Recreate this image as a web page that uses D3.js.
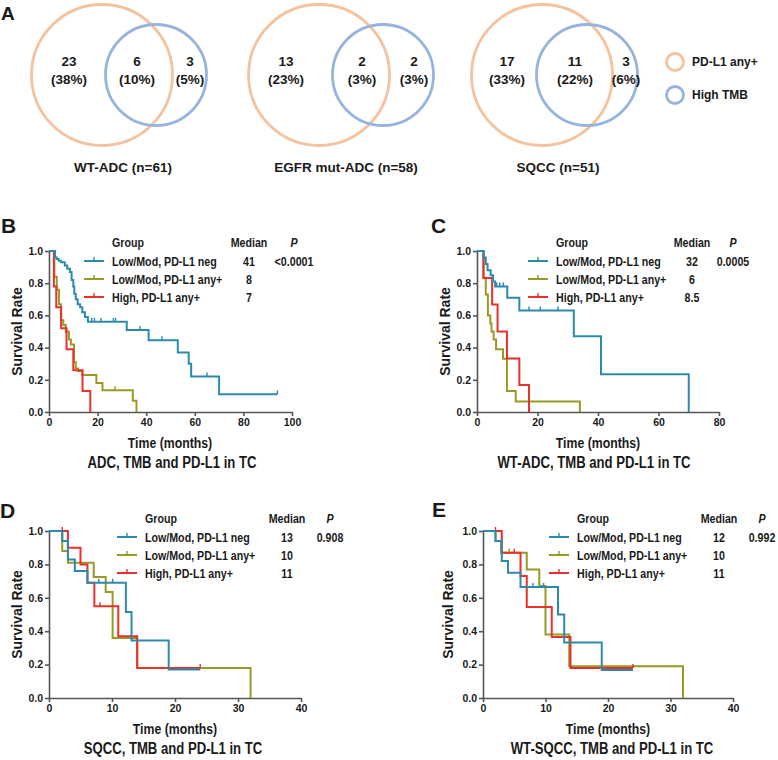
<!DOCTYPE html>
<html>
<head>
<meta charset="utf-8">
<script src="https://cdn.jsdelivr.net/npm/d3@7"></script>
<style>
  body { margin: 0; background: #fff; }
  svg text { font-family: Arial, "Liberation Sans", sans-serif; font-weight: bold; fill: #1a1a1a; }
</style>
</head>
<body>
<div id="body"></div>
<script>
// ---- panel A data (Venn counts) ----
var vennTitles = ["WT-ADC (n=61)", "EGFR mut-ADC (n=58)", "SQCC (n=51)"];
var vennCounts = [[23, 6, 3], [13, 2, 2], [17, 11, 3]];
var vennPercents = [["38%", "10%", "5%"], ["23%", "3%", "3%"], ["33%", "22%", "6%"]];
var vennLegend = ["PD-L1 any+", "High TMB"];

// ---- KM groups ----
var groups = ["Low/Mod, PD-L1 neg", "Low/Mod, PD-L1 any+", "High, PD-L1 any+"];
var groupColors = ["#2c8aad", "#999a24", "#e8302c"];

// B: ADC
var adcNeg = [[0,1],[2.5,0.96],[3.2,0.95],[4,0.94],[5,0.93],[6.5,0.91],[7.5,0.89],[8.6,0.87],[9.3,0.82],[10,0.78],[10.4,0.735],[11,0.70],[11.8,0.67],[12.8,0.65],[13.7,0.62],[14.8,0.59],[16,0.56],[32,0.51],[41,0.445],[53,0.37],[57.5,0.30],[58.5,0.22],[70,0.11],[94,0.11]];
var adcAny = [[0,1],[2.2,0.84],[3.2,0.76],[4.1,0.67],[4.9,0.57],[5.9,0.54],[6.9,0.50],[8.2,0.45],[9,0.42],[10.3,0.31],[11,0.27],[12,0.255],[13.7,0.23],[19.5,0.18],[22,0.135],[34.5,0.07],[36,0]];
var adcHigh = [[0,1],[2,0.78],[3,0.65],[5,0.52],[7.2,0.39],[10,0.26],[13.8,0.13],[17,0]];
var adcNegCens = [17.6, 18.7, 21.4, 26.5, 27.4, 37.5, 46.5, 65, 94];
var adcAnyCens = [27.2];
var adcHighCens = [];

// C: WT-ADC
var wtAdcNeg = [[0,1],[2.2,0.96],[2.9,0.92],[3.5,0.88],[4.5,0.85],[5.3,0.81],[6,0.78],[10,0.71],[14,0.63],[32,0.47],[41,0.235],[70,0]];
var wtAdcAny = [[0,1],[2.2,0.83],[2.9,0.73],[3.6,0.6],[4.4,0.55],[4.8,0.5],[5.5,0.45],[6.3,0.39],[8.6,0.33],[9.9,0.13],[12.8,0.065],[34,0]];
var wtAdcHigh = [[0,1],[2.1,0.833],[5,0.667],[6.8,0.5],[9.9,0.333],[14,0.167],[17.2,0]];
var wtAdcNegCens = [6.5, 7.5, 8.7, 17.2, 20.9, 26.8];
var wtAdcAnyCens = [];
var wtAdcHighCens = [];

// D: SQCC
var sqccNeg = [[0,1],[2.1,0.94],[3,0.83],[4.1,0.76],[6.1,0.69],[12.2,0.515],[13.1,0.345],[19,0.17],[24,0.17]];
var sqccAny = [[0,1],[2.1,0.88],[3,0.81],[7.1,0.725],[9,0.635],[10.1,0.36],[14,0.18],[32,0]];
var sqccHigh = [[0,1],[3,0.9],[5,0.8],[6.1,0.69],[7.2,0.55],[11,0.37],[14,0.18],[24,0.18]];
var sqccNegCens = [7.9, 10.1];
var sqccAnyCens = [];
var sqccHighCens = [2.1, 8.1, 24];

// E: WT-SQCC
var wtSqccNeg = [[0,1],[2,0.94],[3,0.82],[4,0.75],[6,0.665],[12,0.5],[13,0.333],[19,0.167],[24,0.167]];
var wtSqccAny = [[0,1],[2,0.94],[2.9,0.87],[7,0.77],[9,0.67],[10,0.38],[13.8,0.19],[32,0]];
var wtSqccHigh = [[0,1],[3,0.87],[6,0.73],[7,0.545],[11,0.365],[14,0.18],[24,0.18]];
var wtSqccNegCens = [8, 9.7];
var wtSqccAnyCens = [4.2];
var wtSqccHighCens = [2, 5, 24];

var kmTitles = ["ADC, TMB and PD-L1 in TC", "WT-ADC, TMB and PD-L1 in TC", "SQCC, TMB and PD-L1 in TC", "WT-SQCC, TMB and PD-L1 in TC"];
var kmMedians = [["41", "8", "7"], ["32", "6", "8.5"], ["13", "10", "11"], ["12", "10", "11"]];
var kmPValues = ["<0.0001", "0.0005", "0.908", "0.992"];
var kmXMax = [100, 80, 40, 40];
var kmXStep = [20, 20, 10, 10];
var yTicks = [0, 0.2, 0.4, 0.6, 0.8, 1.0];

var svg = d3.select("#body")
  .append("svg")
  .attr("width", 778)
  .attr("height", 760);

// narrow text (the figure uses a condensed face)
function ntext(sel, x, y, str, size, anchor) {
  return sel.append("text")
    .attr("transform", "translate(" + x + "," + y + ") scale(0.82,1)")
    .attr("text-anchor", anchor || "start")
    .style("font-size", size + "px")
    .text(str);
}

// ---------- panel A ----------
var orange = "#f4c29c", blue = "#96b4de";
svg.append("text").attr("x", 1).attr("y", 20).style("font-size", "19px").text("A");

var vennLayout = [
  {ocx: 102, bcx: 156, tx: [69, 137, 190], titleX: 123},
  {ocx: 319, bcx: 383, tx: [286, 362, 414], titleX: 346},
  {ocx: 542, bcx: 587, tx: [507, 575, 626], titleX: 558}
];

vennLayout.forEach(function(v, i) {
  var g = svg.append("g");
  g.append("circle").attr("cx", v.ocx).attr("cy", 75).attr("r", 70.5)
    .attr("fill", "none").attr("stroke", orange).attr("stroke-width", 2.8);
  g.append("circle").attr("cx", v.bcx).attr("cy", 75).attr("r", 50.5)
    .attr("fill", "none").attr("stroke", blue).attr("stroke-width", 2.8);
  vennCounts[i].forEach(function(c, j) {
    g.append("text").attr("x", v.tx[j]).attr("y", 66).attr("text-anchor", "middle")
      .style("font-size", "13.5px").text(c);
    g.append("text").attr("x", v.tx[j]).attr("y", 84).attr("text-anchor", "middle")
      .style("font-size", "13.5px").text("(" + vennPercents[i][j] + ")");
  });
  g.append("text").attr("x", v.titleX).attr("y", 172).attr("text-anchor", "middle")
    .style("font-size", "13.5px").text(vennTitles[i]);
});

[orange, blue].forEach(function(col, i) {
  svg.append("circle").attr("cx", 675).attr("cy", 62 + i * 33).attr("r", 8.5)
    .attr("fill", "none").attr("stroke", col).attr("stroke-width", 2.8);
  svg.append("text").attr("x", 692).attr("y", 66 + i * 33)
    .style("font-size", "12px").text(vennLegend[i]);
});

// ---------- KM panels ----------
var kmLayout = [
  {letter: "B", lx: 1, ly: 233, left: 49, right: 292, top: 251, bottom: 412, legX: 84, legY: 261, medX: 249, pX: 294, titleX: 172, xtX: 170, syX: 22},
  {letter: "C", lx: 431, ly: 233, left: 477, right: 719, top: 251, bottom: 412, legX: 528, legY: 261, medX: 692, pX: 733, titleX: 594, xtX: 598, syX: 450},
  {letter: "D", lx: 0, ly: 518, left: 49, right: 301, top: 531, bottom: 698, legX: 117, legY: 537, medX: 287, pX: 330, titleX: 173, xtX: 175, syX: 22},
  {letter: "E", lx: 432, ly: 517, left: 483, right: 733, top: 531, bottom: 698, legX: 549, legY: 537, medX: 719, pX: 762, titleX: 612, xtX: 608, syX: 453}
];

var kmCurves = [
  [adcNeg, adcAny, adcHigh],
  [wtAdcNeg, wtAdcAny, wtAdcHigh],
  [sqccNeg, sqccAny, sqccHigh],
  [wtSqccNeg, wtSqccAny, wtSqccHigh]
];
var kmCens = [
  [adcNegCens, adcAnyCens, adcHighCens],
  [wtAdcNegCens, wtAdcAnyCens, wtAdcHighCens],
  [sqccNegCens, sqccAnyCens, sqccHighCens],
  [wtSqccNegCens, wtSqccAnyCens, wtSqccHighCens]
];

function survAt(curve, t) {
  var s = 1;
  curve.forEach(function(d) { if (d[0] <= t) s = d[1]; });
  return s;
}

kmLayout.forEach(function(p, k) {
  var g = svg.append("g");
  var x = d3.scaleLinear().domain([0, kmXMax[k]]).range([p.left, p.right]);
  var y = d3.scaleLinear().domain([0, 1]).range([p.bottom, p.top]);

  g.append("text").attr("x", p.lx).attr("y", p.ly).style("font-size", "21px").text(p.letter);

  var xAxis = g.append("g")
    .attr("transform", "translate(0," + p.bottom + ")")
    .call(d3.axisBottom(x).tickValues(d3.range(0, kmXMax[k] + 1, kmXStep[k]))
      .tickSize(4).tickSizeOuter(0).tickPadding(3));
  var yAxis = g.append("g")
    .attr("transform", "translate(" + p.left + ",0)")
    .call(d3.axisLeft(y).tickValues(yTicks).tickFormat(d3.format(".1f"))
      .tickSize(4).tickSizeOuter(0).tickPadding(2));
  [xAxis, yAxis].forEach(function(a) {
    a.select(".domain").attr("stroke", "#555").attr("stroke-width", 1.6);
    a.selectAll(".tick line").attr("stroke", "#555").attr("stroke-width", 1.6);
    a.selectAll(".tick text").style("font-size", "10.5px").style("font-family", "Arial, 'Liberation Sans', sans-serif")
      .style("font-weight", "bold").attr("fill", "#1a1a1a");
  });

  var line = d3.line()
    .x(function(d) { return x(d[0]); })
    .y(function(d) { return y(d[1]); })
    .curve(d3.curveStepAfter);

  // draw olive, red, then teal on top
  [1, 2, 0].forEach(function(i) {
    g.append("path")
      .datum(kmCurves[k][i])
      .attr("d", line)
      .attr("fill", "none")
      .attr("stroke", groupColors[i])
      .attr("stroke-width", 2);
    g.selectAll(null)
      .data(kmCens[k][i])
      .enter().append("line")
      .attr("x1", function(t) { return x(t); })
      .attr("x2", function(t) { return x(t); })
      .attr("y1", function(t) { return y(survAt(kmCurves[k][i], t)); })
      .attr("y2", function(t) { return y(survAt(kmCurves[k][i], t)) - 4; })
      .attr("stroke", groupColors[i])
      .attr("stroke-width", 1.4);
  });

  // legend table
  ntext(g, p.legX + 28, p.legY - 19 + 4.5, "Group", 13, "start");
  ntext(g, p.medX, p.legY - 19 + 4.5, "Median", 13, "middle");
  ntext(g, p.pX, p.legY - 19 + 4.5, "P", 13, "middle").style("font-style", "italic");
  groups.forEach(function(name, i) {
    var cy = p.legY + i * 18;
    g.append("line").attr("x1", p.legX).attr("x2", p.legX + 20).attr("y1", cy).attr("y2", cy)
      .attr("stroke", groupColors[i]).attr("stroke-width", 2);
    g.append("line").attr("x1", p.legX + 10).attr("x2", p.legX + 10).attr("y1", cy).attr("y2", cy - 4)
      .attr("stroke", groupColors[i]).attr("stroke-width", 1.4);
    ntext(g, p.legX + 28, cy + 4.5, name, 13, "start");
    ntext(g, p.medX, cy + 4.5, kmMedians[k][i], 13, "middle");
  });
  ntext(g, p.pX, p.legY + 4.5, kmPValues[k], 13, "middle");

  // axis titles
  ntext(g, p.xtX, p.bottom + 36, "Time (months)", 15, "middle");
  ntext(g, p.titleX, p.bottom + 56, kmTitles[k], 16, "middle");
  g.append("text")
    .attr("transform", "translate(" + p.syX + "," + ((p.top + p.bottom) / 2) + ") rotate(-90)")
    .attr("text-anchor", "middle")
    .style("font-size", "14px")
    .text("Survival Rate");
});
</script>
</body>
</html>
